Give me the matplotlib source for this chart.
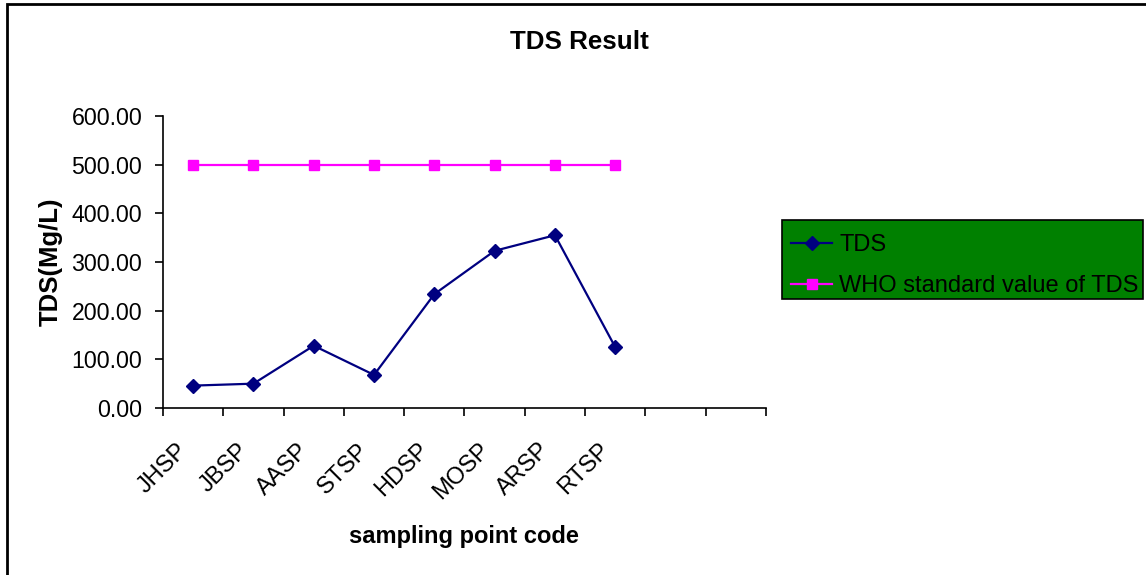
import matplotlib
matplotlib.use("Agg")
import matplotlib.pyplot as plt
from matplotlib.patches import Rectangle
from matplotlib.transforms import ScaledTranslation

plt.rcParams["font.family"] = ["Liberation Sans", "DejaVu Sans"]

# 数据：各采样点 TDS 与 WHO 标准值
sites = ["JHSP", "JBSP", "AASP", "STSP", "HDSP", "MOSP", "ARSP", "RTSP"]
tds = [46, 50, 128, 68, 234, 323, 355, 125]
who = [500, 500, 500, 500, 500, 500, 500, 500]
n_slots = 10          # Excel 轴上共 10 个分类格
yticks = [0, 100, 200, 300, 400, 500, 600]

W, H = 1146, 575
fig = plt.figure(figsize=(W / 100, H / 100), dpi=100)
ax = fig.add_axes([163 / W, 1 - 408 / H, (766 - 163) / W, (408 - 116) / H])

xs = [i + 0.5 for i in range(len(sites))]
ax.plot(xs, tds, "-D", color="#000080", lw=1.6, ms=7, label="TDS")
ax.plot(xs, who, "-s", color="#FF00FF", lw=1.6, ms=7,
        label="WHO standard value of TDS")

ax.set_xlim(0, n_slots)
ax.set_ylim(0, 600)
ax.set_yticks(yticks)
ax.set_yticklabels([f"{v:.2f}" for v in yticks], fontsize=16.7)
ax.tick_params(axis="y", length=6, width=1.2, pad=9)

# 分类边界处画刻度，标签放在格子中间
ax.set_xticks(range(n_slots + 1))
ax.set_xticklabels([])
ax.set_xticks(xs, minor=True)
ax.set_xticklabels(sites, minor=True, rotation=45, ha="right", va="center",
                   rotation_mode="anchor", fontsize=17)
ax.tick_params(axis="x", which="major", length=6, width=1.2)
ax.tick_params(axis="x", which="minor", length=0, pad=28)
shift = ScaledTranslation(-9 / 100, 0, fig.dpi_scale_trans)
for lbl in ax.get_xticklabels(minor=True):
    lbl.set_transform(lbl.get_transform() + shift)

for s in ["top", "right"]:
    ax.spines[s].set_visible(False)
for s in ["left", "bottom"]:
    ax.spines[s].set_linewidth(1.2)

ax.set_ylabel("TDS(Mg/L)", fontsize=18.5, fontweight="bold", labelpad=6)
fig.text(464 / W, 1 - 537 / H, "sampling point code", fontsize=17,
         fontweight="bold", ha="center", va="center")
fig.text(579 / W, 1 - 42 / H, "TDS Result", fontsize=18.7, fontweight="bold",
         ha="center", va="center")

# 图例：绿色底框单独画，图例本身不带框
box = Rectangle((782 / W, 1 - 299 / H), (1143 - 782) / W, 79 / H,
                transform=fig.transFigure, facecolor="#008000",
                edgecolor="black", lw=1.2, clip_on=False, zorder=4)
ax.add_patch(box)
leg = ax.legend(loc="upper left", bbox_to_anchor=(784 / W, 1 - 227 / H),
                bbox_transform=fig.transFigure, borderaxespad=0,
                fontsize=17, frameon=False,
                handlelength=1.75, handletextpad=0.3, labelspacing=0.8,
                borderpad=0.3)
leg.set_zorder(5)

# 外框（只看得到左边和上边）
fig.patches.append(Rectangle((7 / W, -0.1), 1.2, 1 - 4 / H + 0.1,
                             transform=fig.transFigure, fill=False,
                             edgecolor="black", lw=2))

fig.savefig("out.png", dpi=100)
